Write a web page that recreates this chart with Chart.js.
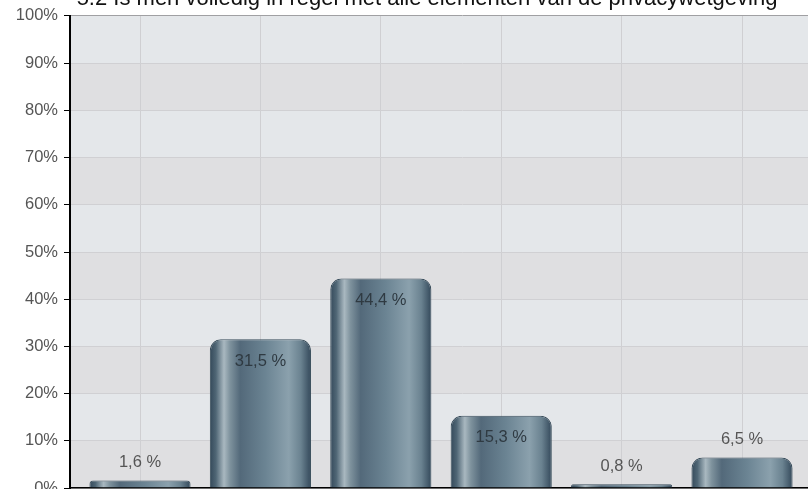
<!DOCTYPE html>
<html>
<head>
<meta charset="utf-8">
<script src="https://cdn.jsdelivr.net/npm/chart.js@4"></script>
<style>
  html, body { margin: 0; padding: 0; background: #fff; overflow: hidden; }
  #wrap { position: absolute; left: 0; top: -20px; width: 854px; height: 524px; }
</style>
</head>
<body>
<div id="wrap"><canvas id="myChart"></canvas></div>
<script>
var title = '5.2 Is men volledig in regel met alle elementen van de privacywetgeving';
var categories = ['Helemaal niet akkoord', 'Niet akkoord', 'Akkoord', 'Helemaal akkoord', 'Niet van toepassing', 'Weet niet'];
var values = [1.6, 31.5, 44.4, 15.3, 0.8, 6.5];
var yTicks = [0, 10, 20, 30, 40, 50, 60, 70, 80, 90, 100];

function fmt(v) {
    return v.toFixed(1).replace('.', ',') + ' %';
}

// alternating horizontal bands behind the plot
const bands = {
    id: 'bands',
    beforeDraw(chart) {
        const ctx = chart.ctx, a = chart.chartArea, y = chart.scales.y;
        ctx.save();
        for (let i = 0; i < yTicks.length - 1; i++) {
            const top = y.getPixelForValue(yTicks[i + 1]);
            const bot = y.getPixelForValue(yTicks[i]);
            ctx.fillStyle = (i % 2 === 0) ? '#dfdfe1' : '#e4e7ea';
            ctx.fillRect(a.left, top, a.right - a.left, bot - top);
        }
        ctx.restore();
    }
};

// cylinder look for the bars + value labels
const shade = {
    id: 'shade',
    beforeDatasetsDraw(chart) {
        const ctx = chart.ctx;
        chart.getDatasetMeta(0).data.forEach((bar) => {
            const l = bar.x - bar.width / 2, r = bar.x + bar.width / 2;
            const g = ctx.createLinearGradient(l, 0, r, 0);
            g.addColorStop(0, '#34495a');
            g.addColorStop(0.06, '#4f6675');
            g.addColorStop(0.14, '#a9b8c0');
            g.addColorStop(0.2, '#7e929d');
            g.addColorStop(0.3, '#53697a');
            g.addColorStop(0.55, '#6b8493');
            g.addColorStop(0.78, '#8ba1ad');
            g.addColorStop(0.9, '#6a8290');
            g.addColorStop(1, '#33485a');
            bar.options.backgroundColor = g;
        });
    },
    afterDatasetsDraw(chart) {
        const ctx = chart.ctx;
        ctx.save();
        ctx.textAlign = 'center';
        ctx.textBaseline = 'middle';
        ctx.font = '16.5px "Liberation Sans", Arial, sans-serif';
        chart.getDatasetMeta(0).data.forEach((bar, i) => {
            const h = bar.base - bar.y;
            if (h > 40) {
                ctx.fillStyle = '#2f3a42';
                ctx.fillText(fmt(values[i]), bar.x, bar.y + 22);
            } else {
                ctx.fillStyle = '#555';
                ctx.fillText(fmt(values[i]), bar.x, bar.y - 18);
            }
        });
        ctx.restore();
    }
};

const ctx = document.getElementById('myChart');
new Chart(ctx, {
    type: 'bar',
    data: {
        datasets: [{
            label: title,
            data: values.map((v, i) => ({ x: i + 1, y: v })),
            backgroundColor: () => '#6b8493',
            borderColor: '#3a4e5c',
            borderWidth: 1,
            borderRadius: { topLeft: 11, topRight: 11, bottomLeft: 0, bottomRight: 0 },
            borderSkipped: 'bottom',
            barPercentage: 0.84,
            categoryPercentage: 1
        }]
    },
    options: {
        responsive: true,
        maintainAspectRatio: false,
        animation: false,
        layout: { padding: { left: 0, right: 0, top: 0, bottom: 2 } },
        plugins: {
            legend: { display: false },
            tooltip: { enabled: false },
            title: {
                display: true,
                text: title,
                color: '#111',
                font: { family: '"Liberation Sans", Arial, sans-serif', size: 22, weight: 'normal' },
                padding: { top: 5.5, bottom: 4 }
            }
        },
        scales: {
            x: {
                type: 'linear',
                min: 0.4186,
                max: 6.93,
                offset: false,
                afterBuildTicks(scale) {
                    scale.ticks = categories.map((c, i) => ({ value: i + 1 }));
                },
                border: { color: '#000', width: 1.5 },
                grid: { offset: false, color: '#cfcfd2', tickColor: '#000', tickLength: 5 },
                ticks: { display: false }
            },
            y: {
                min: 0,
                max: 100,
                afterFit(scale) { scale.width = 70; },
                border: { color: '#000', width: 2 },
                grid: {
                    color: (c) => c.tick && c.tick.value === 100 ? '#a0a0a3' : '#d0d0d3',
                    tickColor: '#000',
                    tickLength: 6
                },
                ticks: {
                    stepSize: 10,
                    padding: 6,
                    color: '#555',
                    font: { family: '"Liberation Sans", Arial, sans-serif', size: 16.5 },
                    callback: (v) => v + '%'
                }
            }
        }
    },
    plugins: [bands, shade]
});
</script>
</body>
</html>
